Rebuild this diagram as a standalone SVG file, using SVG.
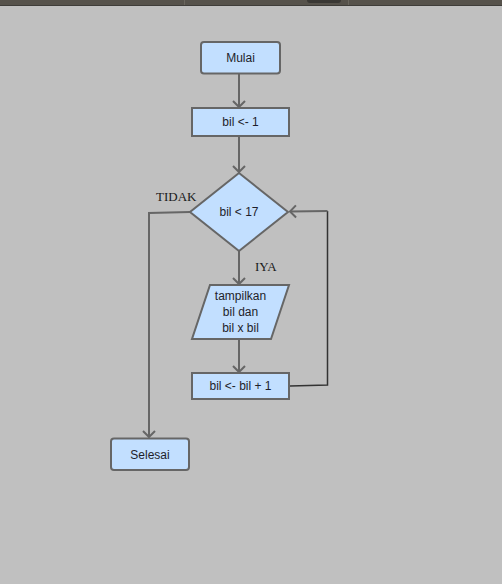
<svg xmlns="http://www.w3.org/2000/svg" width="502" height="584" viewBox="0 0 502 584">
<defs>
<style>
.n{fill:#c2dfff;stroke:#666;stroke-width:2}
.t{font-family:"Liberation Sans",Arial,sans-serif;font-size:12px;fill:#1e1e2a;text-anchor:middle}
.l{font-family:"Liberation Serif","Times New Roman",serif;font-size:13px;fill:#1a1a1a}
.c{fill:none;stroke:#666;stroke-width:2}
.c2{fill:none;stroke:#333;stroke-width:1.5}
</style>
<marker id="ah" markerUnits="userSpaceOnUse" markerWidth="16" markerHeight="16" viewBox="-8 -8 16 16" refX="0" refY="0" orient="auto">
<path d="M-6,-6 L0,0 L-6,6" fill="none" stroke="#666" stroke-width="2"/>
</marker>
</defs>
<rect x="0" y="0" width="502" height="584" fill="#c0c0c0"/>
<rect x="0" y="0" width="502" height="5" fill="#56524b"/>
<line x1="0" y1="5.5" x2="502" y2="5.5" stroke="#3f3d39" stroke-width="1"/>
<line x1="184.5" y1="0" x2="184.5" y2="5" stroke="#6a665e" stroke-width="1"/>
<line x1="348.5" y1="0" x2="348.5" y2="5" stroke="#6a665e" stroke-width="1"/>
<rect x="307" y="-4" width="34" height="7" rx="3" fill="#3a3834"/>

<g id="connectors">
<path class="c" d="M239,74 L239,107" marker-end="url(#ah)"/>
<path class="c" d="M239,136 L239,172" marker-end="url(#ah)"/>
<path class="c" d="M239,251 L239,284" marker-end="url(#ah)"/>
<path class="c" d="M239,339 L239,372" marker-end="url(#ah)"/>
<path class="c" d="M190,212 L149,213 L149,437" marker-end="url(#ah)"/>
<path class="c2" d="M290,386 L327.5,385 L327.5,211"/>
<path class="c" d="M327.5,211 L290,211.5" marker-end="url(#ah)"/>
<text class="l" x="156" y="201">TIDAK</text>
<text class="l" x="255" y="271">IYA</text>
</g>

<g id="mulai">
<rect class="n" x="201" y="42" width="79" height="31.5" rx="3"/>
<text class="t" x="240.5" y="62">Mulai</text>
</g>
<g id="init">
<rect class="n" x="192" y="108" width="97" height="28"/>
<text class="t" x="240.5" y="126">bil &lt;- 1</text>
</g>
<g id="cond">
<polygon class="n" points="239,173 288,212 239,251 190,212"/>
<text class="t" x="239" y="216">bil &lt; 17</text>
</g>
<g id="output">
<polygon class="n" points="210,285 289,285 271,339 192,339"/>
<text class="t" x="240.5" y="300">tampilkan</text>
<text class="t" x="240.5" y="316">bil dan</text>
<text class="t" x="240.5" y="332">bil x bil</text>
</g>
<g id="incr">
<rect class="n" x="192" y="373" width="97" height="26"/>
<text class="t" x="240.5" y="390">bil &lt;- bil + 1</text>
</g>
<g id="selesai">
<rect class="n" x="111" y="438.5" width="78" height="31.5" rx="3"/>
<text class="t" x="150" y="458.5">Selesai</text>
</g>
</svg>
